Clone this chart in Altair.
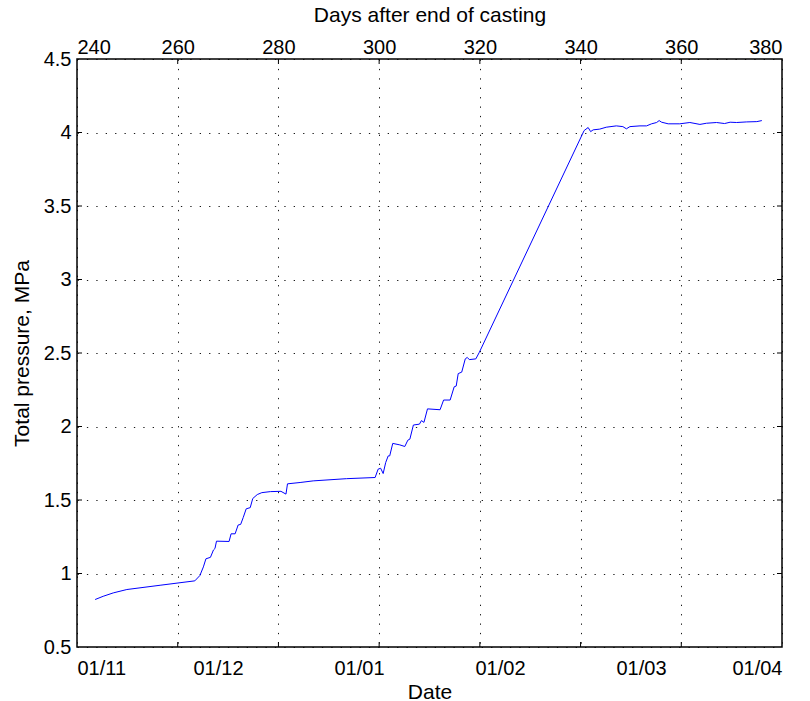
import json
import altair as alt
import pandas as pd

# Total pressure record, days after end of casting vs. MPa
days = [243.6, 245.2, 247.2, 249.9, 256.5, 263.4, 264.4, 265.1, 265.6, 266.5,
        267.1, 267.4, 267.7, 270.2, 270.6, 271.4, 272.0, 272.5, 273.0, 273.6,
        274.4, 274.9, 275.8, 276.7, 278.4, 280.5, 281.5, 281.8, 284.3, 286.9,
        293.5, 299.2, 299.8, 300.3, 300.8, 301.3, 301.8, 302.1, 302.7, 304.1,
        305.1, 305.7, 306.1, 306.8, 308.0, 308.4, 308.9, 309.6, 312.1, 312.8,
        314.1, 314.9, 315.3, 315.7, 316.4, 317.1, 317.5, 317.9, 319.2, 319.9,
        340.7, 341.5, 342.0, 342.5, 343.8, 345.1, 347.1, 348.4, 349.1, 349.8,
        351.8, 353.1, 354.1, 355.1, 355.6, 356.1, 357.4, 359.7, 361.7, 363.7,
        365.0, 367.0, 368.6, 369.7, 371.0, 373.0, 375.0, 376.0]
pressure = [0.823, 0.845, 0.868, 0.891, 0.920, 0.950, 0.986, 1.045, 1.100, 1.110,
            1.160, 1.170, 1.220, 1.218, 1.270, 1.270, 1.330, 1.334, 1.380, 1.440,
            1.448, 1.510, 1.537, 1.550, 1.557, 1.559, 1.540, 1.610, 1.619, 1.630,
            1.645, 1.653, 1.710, 1.716, 1.680, 1.755, 1.800, 1.800, 1.885, 1.875,
            1.864, 1.907, 1.914, 2.010, 2.016, 2.040, 2.028, 2.120, 2.114, 2.180,
            2.180, 2.270, 2.275, 2.360, 2.370, 2.460, 2.470, 2.455, 2.460, 2.505,
            4.013, 4.034, 4.006, 4.018, 4.023, 4.036, 4.045, 4.040, 4.025, 4.040,
            4.045, 4.045, 4.059, 4.068, 4.081, 4.070, 4.059, 4.059, 4.068, 4.055,
            4.063, 4.068, 4.061, 4.070, 4.068, 4.072, 4.074, 4.081]

# Axis ticks and calendar labels
day_ticks = [240, 260, 280, 300, 320, 340, 360, 380]
inner_day_ticks = [260, 280, 300, 320, 340, 360]
pressure_ticks = [0.5, 1, 1.5, 2, 2.5, 3, 3.5, 4, 4.5]
inner_pressure_ticks = [1, 1.5, 2, 2.5, 3, 3.5, 4]
date_label_days = [240, 268, 296, 324, 352, 380]
date_labels = ["01/11", "01/12", "01/01", "01/02", "01/03", "01/04"]

W, H = 705, 588
FONT = "Liberation Sans"
DASH = [1.3, 8.1]

series = pd.DataFrame({"day": days, "pressure": pressure})
xt = pd.DataFrame({"day": inner_day_ticks})
yt = pd.DataFrame({"pressure": inner_pressure_ticks})

x_scale = alt.Scale(domain=[240, 380], nice=False, zero=False)
y_scale = alt.Scale(domain=[0.5, 4.5], nice=False, zero=False)

date_expr = "{}[indexof({}, datum.value)]".format(
    json.dumps(date_labels), json.dumps(date_label_days))

line = alt.Chart(series).mark_line(color="#0000ff", strokeWidth=1).encode(
    x=alt.X("day:Q", scale=x_scale, axis=alt.Axis(
        orient="bottom", values=date_label_days, labelExpr=date_expr,
        tickSize=0, grid=False, domain=False, labelPadding=11,
        title="Date", titlePadding=3)),
    y=alt.Y("pressure:Q", scale=y_scale, axis=alt.Axis(
        orient="left", values=pressure_ticks, format="~g", tickSize=0,
        grid=True, gridDash=DASH, gridColor="black", gridOpacity=0.9,
        domain=False, labelPadding=6,
        title="Total pressure, MPa", titlePadding=11)),
)

top_ticks = alt.Chart(xt).mark_rule(color="black", strokeWidth=1).encode(
    x=alt.X("day:Q", scale=x_scale, axis=alt.Axis(
        orient="top", values=day_ticks, format="d", tickSize=0,
        grid=True, gridDash=DASH, gridColor="black", gridOpacity=0.9,
        domain=False, labelPadding=2,
        title="Days after end of casting", titlePadding=12)),
    y=alt.value(0), y2=alt.value(5),
)
bottom_ticks = alt.Chart(xt).mark_rule(color="black", strokeWidth=1).encode(
    x=alt.X("day:Q", scale=x_scale, axis=None),
    y=alt.value(H), y2=alt.value(H - 5),
)
left_ticks = alt.Chart(yt).mark_rule(color="black", strokeWidth=1).encode(
    y=alt.Y("pressure:Q", scale=y_scale, axis=None),
    x=alt.value(0), x2=alt.value(5),
)
right_ticks = alt.Chart(yt).mark_rule(color="black", strokeWidth=1).encode(
    y=alt.Y("pressure:Q", scale=y_scale, axis=None),
    x=alt.value(W), x2=alt.value(W - 5),
)

chart = alt.layer(line, top_ticks, bottom_ticks, left_ticks, right_ticks).resolve_axis(
    x="independent", y="independent"
).properties(
    width=W, height=H,
    autosize=alt.AutoSizeParams(type="none"),
    padding={"left": 77, "top": 59, "right": 28, "bottom": 54},
    background="white",
).configure_view(
    stroke="black", strokeWidth=1.5
).configure_axis(
    labelFont=FONT, labelFontSize=20, labelColor="black",
    titleFont=FONT, titleFontSize=21, titleColor="black", titleFontWeight="normal",
)

chart.save("out.html", embed_options={"renderer": "svg", "actions": False})
